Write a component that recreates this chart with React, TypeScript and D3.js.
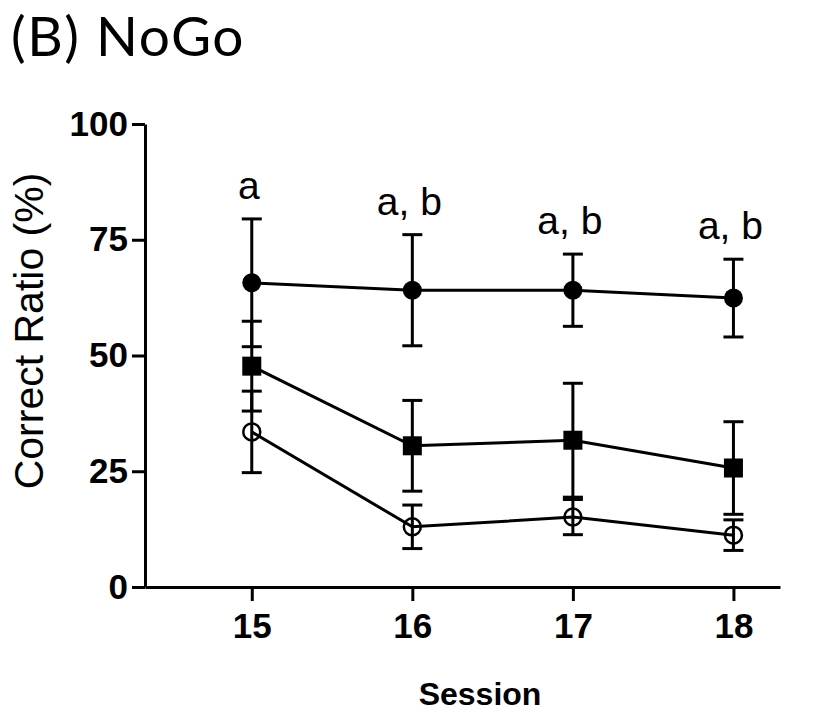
import React, { useEffect, useRef } from 'react';
import * as d3 from 'd3';

// sessions on the x axis
const sessions = [15, 16, 17, 18];
const yTicks = [0, 25, 50, 75, 100];

// group means and error (SEM) per session
const filledCircleMean = [65.7, 64.1, 64.1, 62.4];
const filledCircleErr = [13.8, 12.0, 7.8, 8.4];
const squareMean = [47.7, 30.5, 31.7, 25.7];
const squareErr = [9.7, 9.8, 12.3, 10.0];
const openCircleMean = [33.5, 13.0, 15.1, 11.2];
const openCircleErr = [8.8, 4.7, 3.8, 3.3];

// significance letters above each session
const sigLabels = ['a', 'a, b', 'a, b', 'a, b'];

const W = 829;
const H = 715;

const App = () => {
  const ref = useRef<SVGSVGElement>(null);

  useEffect(() => {
    const svg = d3.select(ref.current);
    svg.selectAll('*').remove();

    const left = 145, right = 780, top = 124, bottom = 587;

    const x = d3.scaleLinear().domain([14.335, 18.29]).range([left, right]);
    const y = d3.scaleLinear().domain([0, 100]).range([bottom, top]);

    // title
    svg.append('text')
      .attr('x', 11)
      .attr('y', 56)
      .attr('font-family', 'Lato, sans-serif')
      .attr('font-size', 55)
      .attr('letter-spacing', 1.5)
      .attr('fill', '#000')
      .text('(B) NoGo');

    // y axis
    const yAxis = svg.append('g')
      .attr('transform', `translate(${left},0)`)
      .call(d3.axisLeft(y).tickValues(yTicks).tickSize(13).tickSizeOuter(0).tickPadding(4));
    yAxis.select('.domain').attr('stroke-width', 3).attr('stroke', '#000');
    yAxis.selectAll('.tick line').attr('stroke-width', 3).attr('stroke', '#000');
    yAxis.selectAll('.tick text')
      .attr('font-family', 'Arial, Liberation Sans, sans-serif')
      .attr('font-weight', 'bold')
      .attr('font-size', 35)
      .attr('fill', '#000');

    // x axis
    const xAxis = svg.append('g')
      .attr('transform', `translate(0,${bottom})`)
      .call(d3.axisBottom(x).tickValues(sessions).tickFormat(d3.format('d')).tickSize(14).tickSizeOuter(0).tickPadding(12));
    xAxis.select('.domain').attr('stroke-width', 3).attr('stroke', '#000');
    xAxis.selectAll('.tick line').attr('stroke-width', 3).attr('stroke', '#000');
    xAxis.selectAll('.tick text')
      .attr('font-family', 'Arial, Liberation Sans, sans-serif')
      .attr('font-weight', 'bold')
      .attr('font-size', 35)
      .attr('fill', '#000');

    // axis titles
    svg.append('text')
      .attr('x', 480)
      .attr('y', 705)
      .attr('text-anchor', 'middle')
      .attr('font-family', 'Arial, Liberation Sans, sans-serif')
      .attr('font-weight', 'bold')
      .attr('font-size', 32)
      .text('Session');

    svg.append('text')
      .attr('transform', `translate(43,331) rotate(-90)`)
      .attr('text-anchor', 'middle')
      .attr('font-family', 'Arial, Liberation Sans, sans-serif')
      .attr('font-size', 41)
      .text('Correct Ratio (%)');

    const series = [
      { mean: filledCircleMean, err: filledCircleErr, shape: 'filled' },
      { mean: squareMean, err: squareErr, shape: 'square' },
      { mean: openCircleMean, err: openCircleErr, shape: 'open' },
    ];

    const line = d3.line<number>()
      .x((d, i) => x(sessions[i]))
      .y(d => y(d));

    const plot = svg.append('g');

    series.forEach(s => {
      // error bars
      s.mean.forEach((m, i) => {
        const cx = x(sessions[i]);
        const y1 = y(m + s.err[i]);
        const y2 = y(m - s.err[i]);
        plot.append('line')
          .attr('x1', cx).attr('x2', cx).attr('y1', y1).attr('y2', y2)
          .attr('stroke', '#000').attr('stroke-width', 3);
        [y1, y2].forEach(yy => {
          plot.append('line')
            .attr('x1', cx - 10).attr('x2', cx + 10).attr('y1', yy).attr('y2', yy)
            .attr('stroke', '#000').attr('stroke-width', 3);
        });
      });
      // connecting line
      plot.append('path')
        .datum(s.mean)
        .attr('fill', 'none')
        .attr('stroke', '#000')
        .attr('stroke-width', 3)
        .attr('d', line);
    });

    series.forEach(s => {
      s.mean.forEach((m, i) => {
        const cx = x(sessions[i]);
        const cy = y(m);
        if (s.shape === 'filled') {
          plot.append('circle').attr('cx', cx).attr('cy', cy).attr('r', 9.5).attr('fill', '#000');
        } else if (s.shape === 'square') {
          plot.append('rect').attr('x', cx - 9.5).attr('y', cy - 9.5)
            .attr('width', 19).attr('height', 19).attr('fill', '#000');
        } else {
          plot.append('circle').attr('cx', cx).attr('cy', cy).attr('r', 8.5)
            .attr('fill', 'none').attr('stroke', '#000').attr('stroke-width', 2.5);
        }
      });
    });

    // significance letters above the top error bar
    sigLabels.forEach((lab, i) => {
      const topVal = filledCircleMean[i] + filledCircleErr[i];
      svg.append('text')
        .attr('x', x(sessions[i]) - 3)
        .attr('y', y(topVal) - 20)
        .attr('text-anchor', 'middle')
        .attr('font-family', 'Arial, Liberation Sans, sans-serif')
        .attr('font-size', 39)
        .text(lab);
    });
  }, []);

  return (
    <svg ref={ref} width={W} height={H}
      style={{ position: 'absolute', left: 0, top: 0, background: '#fff' }} />
  );
};

export default App;
